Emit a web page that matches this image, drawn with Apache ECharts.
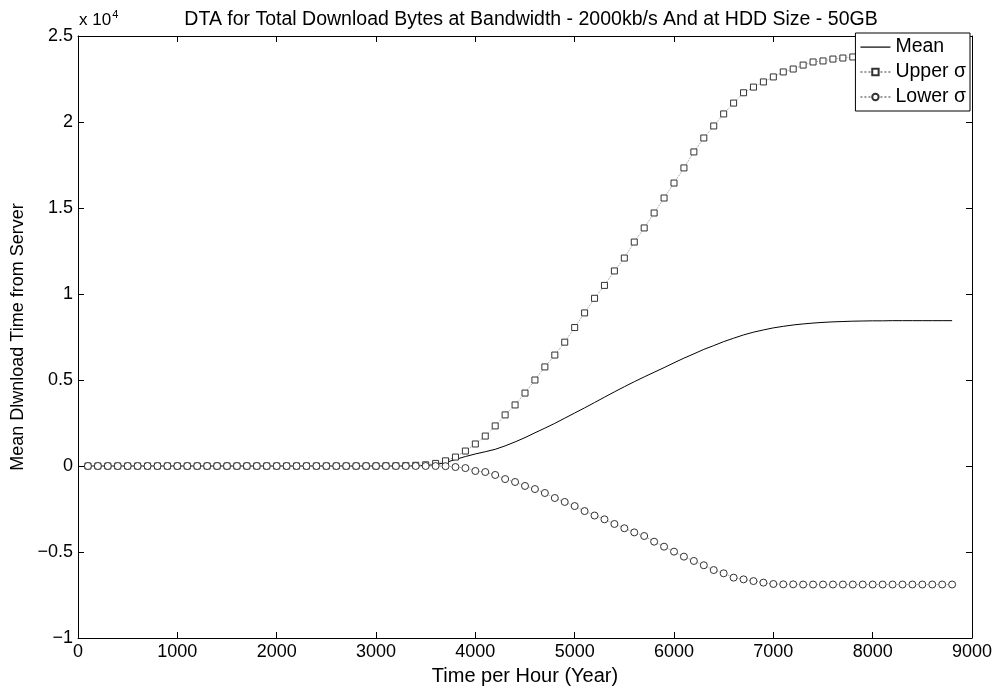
<!DOCTYPE html>
<html>
<head>
<meta charset="utf-8">
<script src="https://cdn.jsdelivr.net/npm/echarts@6/dist/echarts.min.js"></script>
<style>
html, body { margin: 0; padding: 0; background: #fff; }
#main { width: 1003px; height: 691px; }
</style>
</head>
<body>
<div id="main"></div>
<script>
// hours (x), one sample every 100
var hours = [
  100, 200, 300, 400, 500, 600, 700, 800, 900, 1000,
  1100, 1200, 1300, 1400, 1500, 1600, 1700, 1800, 1900, 2000,
  2100, 2200, 2300, 2400, 2500, 2600, 2700, 2800, 2900, 3000,
  3100, 3200, 3300, 3400, 3500, 3600, 3700, 3800, 3900, 4000,
  4100, 4200, 4300, 4400, 4500, 4600, 4700, 4800, 4900, 5000,
  5100, 5200, 5300, 5400, 5500, 5600, 5700, 5800, 5900, 6000,
  6100, 6200, 6300, 6400, 6500, 6600, 6700, 6800, 6900, 7000,
  7100, 7200, 7300, 7400, 7500, 7600, 7700, 7800, 7900, 8000,
  8100, 8200, 8300, 8400, 8500, 8600, 8700, 8800
];

var meanVals = [
  0, 0, 0, 0, 0, 0, 0, 0, 0, 0,
  0, 0, 0, 0, 0, 0, 0, 0, 0, 0,
  0, 0, 0, 0, 0, 0, 0, 0, 0, 0,
  0, 0, 0, 10, 30, 80, 200, 380, 550, 700,
  830, 970, 1170, 1400, 1650, 1930, 2200, 2480, 2780, 3080,
  3380, 3690, 4000, 4310, 4610, 4900, 5180, 5450, 5720, 6000,
  6270, 6520, 6780, 7000, 7230, 7430, 7620, 7780, 7910, 8030,
  8120, 8200, 8260, 8310, 8350, 8380, 8400, 8420, 8430, 8440,
  8440, 8450, 8450, 8450, 8450, 8450, 8450, 8450
];

var upperVals = [
  0, 0, 0, 0, 0, 0, 0, 0, 0, 0,
  0, 0, 0, 0, 0, 0, 0, 0, 0, 0,
  0, 0, 0, 0, 0, 0, 0, 0, 0, 0,
  10, 10, 20, 40, 70, 150, 300, 520, 870, 1280,
  1740, 2330, 2970, 3550, 4240, 5000, 5760, 6450, 7200, 8050,
  8900, 9750, 10500, 11340, 12090, 13020, 13840, 14710, 15580, 16450,
  17330, 18260, 19070, 19770, 20470, 21100, 21700, 22030, 22330, 22620,
  22910, 23080, 23310, 23490, 23550, 23660, 23720, 23780, 23820, 23850,
  23870, 23880, 23890, 23890, 23900, 23900, 23900, 23900
];

var lowerVals = [
  0, 0, 0, 0, 0, 0, 0, 0, 0, 0,
  0, 0, 0, 0, 0, 0, 0, 0, 0, 0,
  0, 0, 0, 0, 0, 0, 0, 0, 0, 0,
  0, 0, 0, 0, 0, 0, -10, -60, -120, -290,
  -350, -520, -760, -930, -1160, -1340, -1570, -1860, -2090, -2330,
  -2620, -2880, -3100, -3370, -3620, -3860, -4070, -4400, -4690, -4980,
  -5270, -5520, -5770, -6050, -6240, -6490, -6590, -6690, -6780, -6860,
  -6880, -6880, -6890, -6890, -6890, -6890, -6890, -6890, -6890, -6890,
  -6890, -6890, -6890, -6890, -6890, -6890, -6890, -6890
];

var seriesNames = ['Mean', 'Upper σ', 'Lower σ'];

function pairs(vals) {
  return hours.map(function (h, i) { return [h, vals[i]]; });
}

var font = 'Liberation Sans, Arial, sans-serif';
var myChart = echarts.init(document.getElementById('main'), null, { renderer: 'canvas' });

var xBase = {
  type: 'value', min: 0, max: 9000, interval: 1000,
  axisLine: { onZero: false, lineStyle: { color: '#000', width: 1 } },
  axisTick: { inside: true, length: 6, lineStyle: { color: '#000' } },
  splitLine: { show: false }
};
var yBase = {
  type: 'value', min: -10000, max: 25000, interval: 5000,
  axisLine: { onZero: false, lineStyle: { color: '#000', width: 1 } },
  axisTick: { inside: true, length: 6, lineStyle: { color: '#000' } },
  splitLine: { show: false }
};

// thin solid bar inside a 30x8 box, used as the Mean legend key
var meanIcon = 'path://M0,0 M0,3.5 L30,3.5 L30,4.7 L0,4.7 Z M30,8';

var option = {
  animation: false,
  backgroundColor: '#fff',
  title: {
    text: 'DTA for Total Download Bytes at Bandwidth - 2000kb/s And at HDD Size - 50GB',
    left: 526, top: 5, textAlign: 'center',
    textStyle: { fontFamily: font, fontSize: 19.5, fontWeight: 'normal', color: '#000' }
  },
  graphic: [{
    type: 'text', left: 79, top: 9,
    style: {
      text: '{a|x 10}{b|4}',
      rich: {
        a: { fontFamily: font, fontSize: 17, color: '#000', verticalAlign: 'bottom' },
        b: { fontFamily: font, fontSize: 11, color: '#000', verticalAlign: 'top', padding: [0, 0, 9, 1] }
      }
    }
  }],
  legend: {
    data: [
      { name: seriesNames[0], icon: meanIcon },
      { name: seriesNames[1] },
      { name: seriesNames[2] }
    ],
    orient: 'vertical',
    right: 33, top: 33,
    backgroundColor: '#fff',
    borderColor: '#000', borderWidth: 1,
    padding: [4, 4, 4, 4],
    itemGap: 5,
    itemWidth: 30, itemHeight: 8,
    textStyle: { fontFamily: font, fontSize: 19.5, color: '#000' }
  },
  grid: { left: 78, right: 31, top: 36, bottom: 53, containLabel: false },
  xAxis: [
    Object.assign({}, xBase, {
      position: 'bottom',
      name: 'Time per Hour (Year)', nameLocation: 'middle', nameGap: 28,
      nameTextStyle: { fontFamily: font, fontSize: 20, color: '#000' },
      axisLabel: {
        fontFamily: font, fontSize: 18, color: '#000', margin: 5,
        formatter: function (v) { return String(v); }
      }
    }),
    Object.assign({}, xBase, { position: 'top', axisLabel: { show: false } })
  ],
  yAxis: [
    Object.assign({}, yBase, {
      position: 'left',
      name: 'Mean Dlwnload Time from Server', nameLocation: 'middle', nameGap: 47,
      nameTextStyle: { fontFamily: font, fontSize: 18, color: '#000' },
      axisLabel: {
        fontFamily: font, fontSize: 18, color: '#000', margin: 5,
        formatter: function (v) { return String(v / 10000).replace('-', '\u2212'); }
      }
    }),
    Object.assign({}, yBase, { position: 'right', axisLabel: { show: false } })
  ],
  series: [
    {
      name: seriesNames[0], type: 'line', data: pairs(meanVals),
      showSymbol: false, symbol: 'none',
      lineStyle: { color: '#000', width: 1 },
      itemStyle: { color: '#000' },
      z: 2
    },
    {
      name: seriesNames[1], type: 'line', data: pairs(upperVals),
      symbol: 'rect', symbolSize: 6, showAllSymbol: true,
      lineStyle: { color: '#999', width: 1, type: 'dotted' },
      itemStyle: { color: '#fff', borderColor: '#333', borderWidth: 1 },
      z: 3
    },
    {
      name: seriesNames[2], type: 'line', data: pairs(lowerVals),
      symbol: 'circle', symbolSize: 7, showAllSymbol: true,
      lineStyle: { color: '#999', width: 1, type: 'dotted' },
      itemStyle: { color: '#fff', borderColor: '#333', borderWidth: 1 },
      z: 3
    }
  ]
};

myChart.setOption(option);
window.addEventListener('resize', myChart.resize);
</script>
</body>
</html>
